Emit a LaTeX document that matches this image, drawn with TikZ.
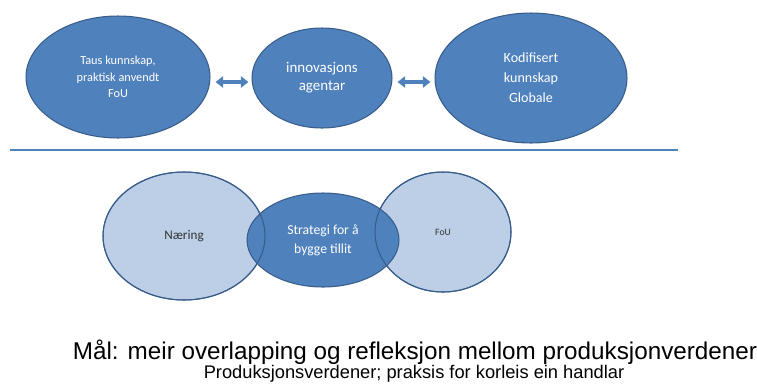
\documentclass[tikz,border=0pt]{standalone}
\usepackage{fontspec}
\setmainfont{Liberation Sans}
\newfontfamily\calib{Carlito}
\usepackage{tikz}
\usetikzlibrary{calc, shapes.geometric, arrows.meta}
\definecolor{oblue}{HTML}{4F81BD}
\definecolor{oedge}{HTML}{385D8A}
\definecolor{olight}{HTML}{BCCFE7}

\begin{document}
\begin{tikzpicture}[x=0.02cm, y=-0.02cm,
    darkell/.style={ellipse, inner sep=0pt, fill=oblue, draw=oedge, line width=0.6pt,
        text=white, align=center, font=\calib},
    lightell/.style={ellipse, inner sep=0pt, fill=olight, draw=oedge, line width=0.6pt,
        text=black!80, align=center, font=\calib},
    rim/.style={ellipse, inner sep=0pt, draw=oedge, line width=0.6pt},
    dblarrow/.style={draw=oblue, line width=0.07cm,
        {Triangle[length=0.15cm, width=0.22cm]}-{Triangle[length=0.15cm, width=0.22cm]}}]
    \useasboundingbox (0,0) rectangle (757,386);
    % upper row
    \node[darkell, minimum width=3.68cm, minimum height=2.44cm, font=\calib\fontsize{7}{9.4}\selectfont]
        (taus) at (118,77) {Taus kunnskap,\\praktisk anvendt\\FoU};
    \node[darkell, minimum width=2.8cm, minimum height=2cm, font=\calib\fontsize{8.5}{10.2}\selectfont]
        (agent) at (322,78) {innovasjons\\agentar};
    \node[darkell, minimum width=3.84cm, minimum height=2.6cm, font=\calib\fontsize{8}{11.4}\selectfont]
        (kodif) at (531,78) {Kodifisert\\kunnskap\\Globale};
    \draw[dblarrow] ($(taus.east)+(5,5)$) -- ($(agent.west)+(-3,4)$);
    \draw[dblarrow] ($(agent.east)+(5,4)$) -- ($(kodif.west)+(-4,4)$);
    % divider
    \coordinate (lineL) at (10,150);
    \coordinate (lineR) at (678,150);
    \draw[oblue, line width=0.045cm] (lineL) -- (lineR);
    % lower row
    \node[lightell, minimum width=3.24cm, minimum height=2.56cm, font=\calib\fontsize{7.5}{8}\selectfont]
        (naering) at (184,236) {Næring};
    \node[lightell, minimum width=2.72cm, minimum height=2.4cm, font=\calib\fontsize{5.5}{7}\selectfont]
        (fou) at (443,232) {FoU};
    \node[darkell, minimum width=3.04cm, minimum height=1.88cm, font=\calib\fontsize{7.8}{11}\selectfont]
        (strat) at (323,240) {Strategi for å\\bygge tillit};
    \node[rim, minimum width=3.24cm, minimum height=2.56cm] at (naering) {};
    \node[rim, minimum width=2.72cm, minimum height=2.4cm] at (fou) {};
    % text
    \node[font=\fontsize{13.8}{15}\selectfont] (maal) at (415,352)
        {Mål: meir overlapping og refleksjon mellom produksjonverdener};
    \node[font=\fontsize{10.4}{12}\selectfont] (prod) at (414,374)
        {Produksjonsverdener; praksis for korleis ein handlar};
\end{tikzpicture}
\end{document}
